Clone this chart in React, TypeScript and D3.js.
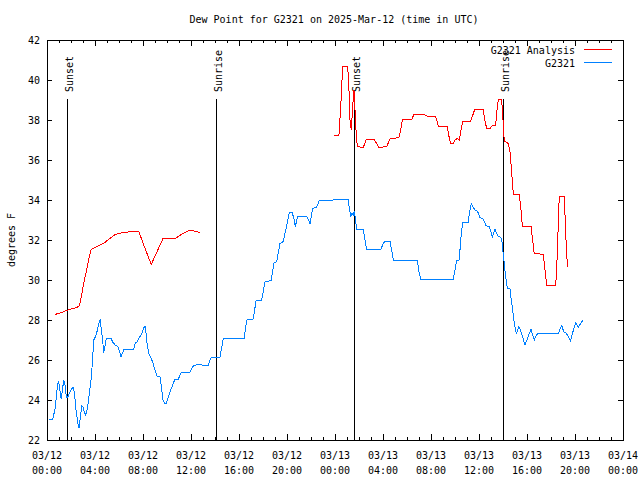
import React from "react";
import * as d3 from "d3";

const titleText = "Dew Point for G2321 on 2025-Mar-12 (time in UTC)";
const yAxisTitle = "degrees F";
const seriesNames = ["G2321 Analysis", "G2321"];
const seriesColors = ["#ff0000", "#0080ff"];
const yTickValues = [22, 24, 26, 28, 30, 32, 34, 36, 38, 40, 42];
const startUtc = Date.UTC(2025, 2, 12, 0, 0);
const endUtc = Date.UTC(2025, 2, 14, 0, 0);

// [hours since 03/12 00:00 UTC, dew point °F]
const observed: [number, number][] = [
  [0.14, 23.05], [0.48, 23.05], [0.69, 23.6], [0.83, 24.5], [0.94, 24.95], [1.03, 24.7],
  [1.11, 24.3], [1.19, 24.05], [1.31, 24.6], [1.39, 25.0], [1.48, 24.85], [1.58, 24.3],
  [1.67, 24.1], [1.78, 24.2], [1.94, 24.45], [2.17, 24.65], [2.28, 24.4], [2.39, 23.65],
  [2.5, 23.15], [2.58, 22.8], [2.67, 22.6], [2.78, 23.15], [2.89, 23.7], [3.0, 23.65],
  [3.11, 23.4], [3.22, 23.25], [3.33, 23.5], [3.44, 23.85], [3.56, 24.5], [3.67, 25.0],
  [3.78, 25.85], [3.89, 27.0], [4.03, 27.15], [4.14, 27.35], [4.25, 27.65], [4.36, 27.9],
  [4.44, 28.05], [4.53, 27.5], [4.64, 27.0], [4.72, 26.35], [4.81, 26.6], [4.94, 27.1],
  [5.33, 27.1], [5.47, 26.9], [5.69, 26.75], [5.92, 26.65], [6.06, 26.4], [6.17, 26.15],
  [6.28, 26.35], [6.44, 26.55], [7.22, 26.55], [7.36, 26.85], [7.5, 26.9], [7.72, 27.15],
  [7.92, 27.35], [8.06, 27.6], [8.17, 27.7], [8.25, 27.35], [8.33, 26.85], [8.47, 26.35],
  [8.67, 26.1], [8.83, 25.85], [9.0, 25.5], [9.17, 25.2], [9.44, 25.15], [9.56, 24.5],
  [9.67, 24.0], [9.78, 23.85], [9.94, 23.85], [10.25, 24.4], [10.53, 24.85], [10.67, 25.05],
  [10.94, 25.05], [11.17, 25.35], [11.64, 25.4], [11.92, 25.4], [12.19, 25.7], [12.61, 25.8],
  [12.89, 25.75], [13.44, 25.75], [13.64, 26.1], [14.42, 26.15], [14.69, 27.08], [16.42, 27.08],
  [16.64, 28.0], [17.19, 28.05], [17.42, 28.97], [17.89, 29.0], [18.17, 29.92], [18.67, 29.97],
  [18.92, 30.87], [19.14, 30.92], [19.42, 31.83], [19.69, 31.92], [19.92, 32.58], [20.19, 33.37],
  [20.42, 33.38], [20.58, 33.08], [20.69, 32.67], [20.89, 33.17], [21.64, 33.2], [21.81, 32.97],
  [21.92, 32.8], [22.14, 33.58], [22.47, 33.63], [22.69, 33.97], [23.86, 34.0], [25.11, 34.03],
  [25.19, 33.58], [25.33, 33.17], [25.42, 33.33], [25.53, 33.25], [25.61, 33.47], [25.72, 32.92],
  [25.81, 32.53], [26.36, 32.53], [26.47, 32.08], [26.64, 31.53], [27.81, 31.53], [28.03, 31.83],
  [28.17, 31.95], [28.58, 31.95], [28.72, 31.5], [28.86, 31.0], [30.86, 31.0], [30.97, 30.5],
  [31.14, 30.05], [33.86, 30.05], [34.0, 30.5], [34.14, 30.97], [34.36, 31.0], [34.47, 32.0],
  [34.64, 32.88], [35.11, 32.88], [35.19, 33.33], [35.36, 33.83], [35.47, 33.67], [35.67, 33.5],
  [35.89, 33.42], [36.08, 33.13], [36.36, 33.05], [36.58, 32.72], [36.86, 32.67], [37.11, 32.17],
  [37.33, 32.53], [37.56, 32.2], [37.83, 32.13], [37.94, 31.83], [38.0, 31.42], [38.08, 30.97],
  [38.17, 30.42], [38.28, 29.92], [38.36, 29.58], [38.58, 29.58], [38.67, 29.08], [38.81, 28.5],
  [38.89, 28.03], [39.0, 27.67], [39.11, 27.3], [39.22, 27.5], [39.33, 27.67], [39.44, 27.5],
  [39.61, 27.2], [39.83, 26.75], [40.0, 27.0], [40.19, 27.33], [40.33, 27.53], [40.47, 27.25],
  [40.61, 27.0], [40.75, 27.2], [40.89, 27.33], [42.61, 27.33], [42.78, 27.58], [42.89, 27.72],
  [43.06, 27.42], [43.28, 27.33], [43.44, 27.17], [43.61, 26.95], [43.78, 27.3], [43.94, 27.67],
  [44.08, 27.87], [44.28, 27.63], [44.44, 27.8], [44.64, 27.97],
];

const analysisFirst: [number, number][] = [
  [0.69, 28.28], [1.25, 28.38], [1.72, 28.5], [2.22, 28.58], [2.64, 28.67], [2.78, 28.92],
  [3.06, 29.83], [3.33, 30.58], [3.56, 31.25], [3.69, 31.53], [4.17, 31.67], [4.72, 31.83],
  [5.14, 32.03], [5.69, 32.28], [6.39, 32.38], [7.17, 32.42], [7.64, 32.45], [8.06, 31.75],
  [8.69, 30.78], [9.17, 31.42], [9.67, 32.08], [10.69, 32.08], [11.25, 32.3], [11.81, 32.47],
  [12.22, 32.45], [12.72, 32.38],
];

const analysisSecond: [number, number][] = [
  [23.92, 37.23], [24.33, 37.23], [24.5, 38.92], [24.64, 40.67], [25.06, 40.67], [25.17, 39.42],
  [25.25, 38.0], [25.36, 37.5], [25.47, 38.67], [25.58, 39.5], [25.67, 38.5], [25.75, 37.5],
  [25.86, 36.67], [26.36, 36.63], [26.58, 37.0], [27.25, 37.03], [27.47, 36.83], [27.64, 36.63],
  [28.31, 36.67], [28.58, 37.05], [29.33, 37.13], [29.47, 37.5], [29.61, 38.0], [30.39, 38.03],
  [30.58, 38.28], [31.36, 38.3], [31.64, 38.2], [32.36, 38.2], [32.53, 37.92], [32.61, 37.7],
  [33.36, 37.7], [33.47, 37.25], [33.64, 36.83], [33.86, 36.83], [34.0, 37.0], [34.19, 37.08],
  [34.36, 37.0], [34.5, 37.5], [34.64, 37.92], [35.31, 37.95], [35.53, 38.33], [35.64, 38.53],
  [36.36, 38.53], [36.47, 38.03], [36.64, 37.58], [36.92, 37.58], [37.11, 37.72], [37.39, 37.75],
  [37.47, 38.33], [37.61, 39.03], [37.89, 39.03], [38.0, 38.0], [38.08, 37.17], [38.17, 36.92],
  [38.44, 36.83], [38.58, 36.42], [38.72, 35.4], [38.86, 34.3], [39.36, 34.3], [39.5, 33.5],
  [39.61, 32.7], [40.33, 32.7], [40.46, 32.05], [40.6, 31.33], [41.36, 31.28], [41.5, 30.5],
  [41.64, 29.75], [42.39, 29.75], [42.47, 30.5], [42.56, 31.92], [42.64, 33.47], [42.69, 34.17],
  [43.11, 34.17], [43.22, 32.42], [43.31, 31.25], [43.39, 30.67],
];

const sunEventHours = [1.69, 14.08, 25.61, 38.03];
const sunEventLabels = ["Sunset", "Sunrise", "Sunset", "Sunrise"];

const W = 640, H = 480;
const L = 47, R = 623, T = 40, B = 440;
const FONT = "'DejaVu Sans Mono', 'Liberation Mono', monospace";

export default function App() {
  const toDate = (h: number) => new Date(startUtc + h * 3600e3);
  const x = d3.scaleUtc().domain([new Date(startUtc), new Date(endUtc)]).range([L, R]);
  const y = d3.scaleLinear().domain([22, 42]).range([B, T]);
  const line = d3
    .line<[number, number]>()
    .x((d) => x(toDate(d[0])))
    .y((d) => y(d[1]));

  const majorTicks = x.ticks(d3.utcHour.every(4)!);
  const minorTicks = x.ticks(d3.utcHour.every(1)!);
  const fmtDate = d3.utcFormat("%m/%d");
  const fmtTime = d3.utcFormat("%H:%M");

  return (
    <svg
      width={W}
      height={H}
      style={{ position: "absolute", left: 0, top: 0, background: "#fff" }}
      fontFamily={FONT}
      fontSize={10}
    >
      <rect x={0} y={0} width={W} height={H} fill="#fff" />
      <text x={334} y={23} textAnchor="middle" fill="#000">{titleText}</text>

      <g stroke="#000" strokeWidth={1} shapeRendering="crispEdges">
        {minorTicks.map((t, i) => {
          const px = Math.round(x(t)) + 0.5;
          return (
            <g key={"mi" + i}>
              <line x1={px} x2={px} y1={B} y2={B - 3} />
              <line x1={px} x2={px} y1={T} y2={T + 3} />
            </g>
          );
        })}
        {majorTicks.map((t, i) => {
          const px = Math.round(x(t)) + 0.5;
          return (
            <g key={"ma" + i}>
              <line x1={px} x2={px} y1={B} y2={B - 6} />
              <line x1={px} x2={px} y1={T} y2={T + 6} />
            </g>
          );
        })}
        {yTickValues.map((v, i) => {
          const py = Math.round(y(v)) + 0.5;
          return (
            <g key={"yt" + i}>
              <line x1={L} x2={L + 5} y1={py} y2={py} />
              <line x1={R} x2={R - 5} y1={py} y2={py} />
            </g>
          );
        })}
      </g>

      {yTickValues.map((v, i) => (
        <text key={"yl" + i} x={40} y={y(v) + 3.5} textAnchor="end" fill="#000">
          {v}
        </text>
      ))}
      {majorTicks.map((t, i) => (
        <g key={"xl" + i}>
          <text x={x(t)} y={459} textAnchor="middle" fill="#000">{fmtDate(t)}</text>
          <text x={x(t)} y={474} textAnchor="middle" fill="#000">{fmtTime(t)}</text>
        </g>
      ))}
      <text transform={`translate(15,${(T + B) / 2}) rotate(-90)`} textAnchor="middle" fill="#000">
        {yAxisTitle}
      </text>

      {sunEventHours.map((h, i) => {
        const px = Math.round(x(toDate(h))) + 0.5;
        return (
          <g key={"ev" + i}>
            <line x1={px} x2={px} y1={99} y2={B} stroke="#000" strokeWidth={1} shapeRendering="crispEdges" />
            <text transform={`translate(${px + 5},92) rotate(-90)`} textAnchor="start" fill="#000">
              {sunEventLabels[i]}
            </text>
          </g>
        );
      })}

      <g fill="none" strokeWidth={1} shapeRendering="crispEdges">
        <path d={line(analysisFirst) || ""} stroke={seriesColors[0]} />
        <path d={line(analysisSecond) || ""} stroke={seriesColors[0]} />
        <path d={line(observed) || ""} stroke={seriesColors[1]} />
      </g>

      {seriesNames.map((n, i) => (
        <g key={"lg" + i}>
          <text x={575} y={54 + i * 13} textAnchor="end" fill="#000">{n}</text>
          <line
            x1={584}
            x2={612}
            y1={49.5 + i * 13}
            y2={49.5 + i * 13}
            stroke={seriesColors[i]}
            strokeWidth={1}
            shapeRendering="crispEdges"
          />
        </g>
      ))}

      <rect x={L + 0.5} y={T + 0.5} width={R - L} height={B - T} fill="none" stroke="#000" strokeWidth={1} shapeRendering="crispEdges" />
    </svg>
  );
}
